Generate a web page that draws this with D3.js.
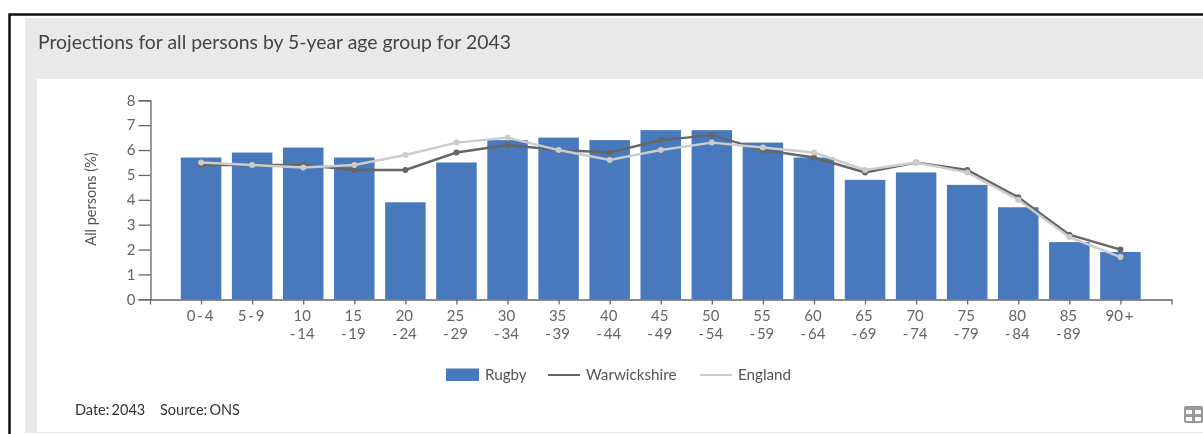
<!DOCTYPE html>
<html><head><meta charset="utf-8">
<style>html,body{margin:0;padding:0;background:#fff;overflow:hidden}svg{display:block;filter:blur(0.4px)}</style>
<script src="https://cdn.jsdelivr.net/npm/d3@7"></script></head>
<body><script>
const categories=["0 - 4","5 - 9","10 - 14","15 - 19","20 - 24","25 - 29","30 - 34","35 - 39","40 - 44","45 - 49","50 - 54","55 - 59","60 - 64","65 - 69","70 - 74","75 - 79","80 - 84","85 - 89","90 +"];
const rugby=[5.7,5.9,6.1,5.7,3.9,5.5,6.4,6.5,6.4,6.8,6.8,6.3,5.7,4.8,5.1,4.6,3.7,2.3,1.9];
const warwickshire=[5.4,5.4,5.4,5.2,5.2,5.9,6.2,6.0,5.9,6.4,6.6,6.0,5.7,5.1,5.5,5.2,4.1,2.6,2.0];
const england=[5.5,5.4,5.3,5.4,5.8,6.3,6.5,6.0,5.6,6.0,6.3,6.1,5.9,5.2,5.5,5.1,4.0,2.5,1.7];
const yTicks=[0,1,2,3,4,5,6,7,8];
const font="Lato, 'Open Sans', sans-serif";
const svg=d3.select("body").append("svg").attr("width",1203).attr("height",434).style("font-family",font);
svg.append("rect").attr("x",25).attr("y",18).attr("width",1178).attr("height",415).attr("fill","#e9e9e9");
svg.append("rect").attr("x",37).attr("y",79).attr("width",1166).attr("height",353).attr("fill","#fff");
svg.append("path").attr("d","M9.5,434V14.5H1203").attr("fill","none").attr("stroke","#111").attr("stroke-width",2.5);
svg.append("text").attr("x",38).attr("y",48.5).attr("font-size",19.4).attr("fill","#444").text("Projections for all persons by 5-year age group for 2043");
const x=d3.scalePoint().domain(categories).range([150,1171.5]).padding(1);
const y=d3.scaleLinear().domain([0,8]).range([299.3,100.3]);
const barW=40.5;
svg.append("g").selectAll("rect").data(rugby).join("rect")
 .attr("x",(d,i)=>x(categories[i])-barW/2).attr("y",d=>y(d)).attr("width",barW).attr("height",d=>y(0)-y(d)).attr("fill","#4779bc");
const yAxis=svg.append("g").attr("transform","translate(150.5,0)").call(d3.axisLeft(y).tickValues(yTicks).tickSize(12).tickPadding(3).tickFormat(d3.format("d")));
const xAxis=svg.append("g").attr("transform","translate(0,299.5)").call(d3.axisBottom(x).tickSize(5).tickSizeOuter(5).tickFormat(""));
[yAxis,xAxis].forEach(a=>{a.selectAll("path,line").attr("stroke","#666").attr("stroke-width",1.3);});
yAxis.selectAll("text").attr("font-size",15).attr("fill","#666").style("font-family",font);
const labels=svg.append("g").attr("font-size",15).attr("fill","#666").attr("text-anchor","middle").attr("word-spacing",-2);
categories.forEach(c=>{
  const p=c.split(" - ");
  const t=labels.append("text").attr("x",x(c)-1).attr("y",321);
  if(p.length===2&&+p[0]>=10){
    t.append("tspan").attr("x",x(c)-1).text(p[0]);
    t.append("tspan").attr("x",x(c)-1).attr("dy",17.5).text("- "+p[1]);
  } else t.text(c);
});
svg.append("text").attr("transform","translate(96,199) rotate(-90)").attr("text-anchor","middle").attr("font-size",14.5).attr("fill","#555").text("All persons (%)");
const line=d3.line().x((d,i)=>x(categories[i])).y(d=>y(d));
[[warwickshire,"#666"],[england,"#ccc"]].forEach(([s,col])=>{
  svg.append("path").datum(s).attr("d",line).attr("fill","none").attr("stroke",col).attr("stroke-width",2.4);
  svg.append("g").selectAll("circle").data(s).join("circle").attr("cx",(d,i)=>x(categories[i])).attr("cy",d=>y(d)).attr("r",3).attr("fill",col);
});
const lg=svg.append("g").attr("font-size",15.2).attr("fill","#555");
lg.append("rect").attr("x",446).attr("y",368.5).attr("width",33).attr("height",12.5).attr("fill","#4779bc");
lg.append("text").attr("x",485).attr("y",380).text("Rugby");
lg.append("line").attr("x1",548).attr("x2",580).attr("y1",375).attr("y2",375).attr("stroke","#666").attr("stroke-width",2);
lg.append("text").attr("x",586).attr("y",380).text("Warwickshire");
lg.append("line").attr("x1",700).attr("x2",732).attr("y1",375).attr("y2",375).attr("stroke","#ccc").attr("stroke-width",2);
lg.append("text").attr("x",738).attr("y",380).text("England");
const foot=svg.append("g").attr("font-size",14.5).attr("fill","#333").attr("word-spacing",-1.5);
foot.append("text").attr("x",75).attr("y",415).text("Date: 2043");
foot.append("text").attr("x",160).attr("y",415).text("Source: ONS");
const ic=svg.append("g").attr("transform","translate(1184,406)");
ic.append("rect").attr("width",19).attr("height",17).attr("rx",2).attr("fill","#999");
[[2,4],[11,4],[2,11],[11,11]].forEach(([a,b])=>ic.append("rect").attr("x",a).attr("y",b).attr("width",6).attr("height",4).attr("fill","#fff"));
</script></body></html>
